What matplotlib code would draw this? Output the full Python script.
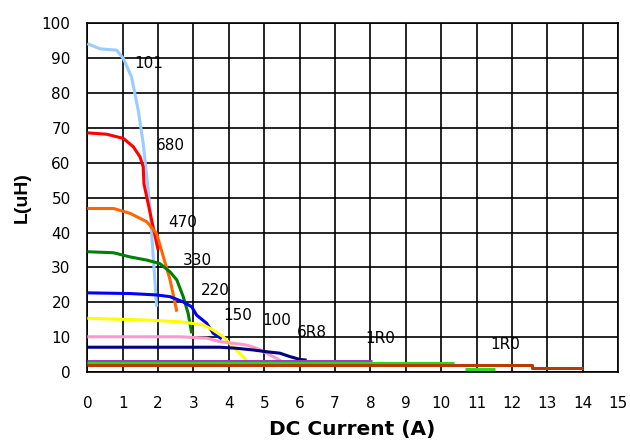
import matplotlib
matplotlib.use("Agg")
import matplotlib.pyplot as plt

plt.rcParams["font.family"] = ["DejaVu Sans"]

# curve data (current in A, inductance in uH)
x101 = [0, 0.36, 0.83, 1.02, 1.25, 1.44, 1.58, 1.68, 1.77, 1.85, 1.96]
y101 = [94.2, 92.7, 92.3, 89.9, 84.6, 75, 65.5, 56, 47.4, 35, 18.7]
x680 = [0, 0.55, 1.02, 1.3, 1.49, 1.58, 1.6, 1.82, 2.0]
y680 = [68.6, 68.2, 67, 64.6, 61.7, 58.8, 54, 43.5, 35]
x470 = [0, 0.74, 1.21, 1.68, 1.96, 2.15, 2.34, 2.53]
y470 = [46.9, 46.9, 45.5, 43.1, 39.7, 33, 26.4, 17.3]
x330 = [0, 0.74, 1.21, 1.68, 2.05, 2.34, 2.53, 2.71, 2.85, 2.95]
y330 = [34.5, 34.2, 33, 32.1, 31.1, 28.7, 26.4, 21.6, 16.8, 11.1]
x220 = [0, 1.21, 1.96, 2.34, 2.71, 2.95, 3.09, 3.37, 3.56, 3.8]
y220 = [22.7, 22.5, 22.1, 21.6, 20.1, 18.7, 16.3, 14, 11.1, 9.5]
x150 = [0, 1.68, 2.62, 3.28, 3.56, 3.84, 4.12, 4.5]
y150 = [15.4, 14.9, 14.4, 13.5, 12, 10.1, 7.2, 3.4]
x100 = [0, 2.62, 3.37, 3.75, 4.31, 4.5, 4.79, 5.07, 5.35, 5.49]
y100 = [10.1, 10.1, 9.7, 8.7, 8.0, 7.7, 6.8, 5.4, 3.9, 3.0]
x6r8 = [0, 3.75, 4.22, 4.7, 5.07, 5.44, 5.73, 6.01, 6.2]
y6r8 = [7.1, 7.1, 6.8, 6.3, 5.8, 5.4, 4.4, 3.6, 3.4]
x3r3 = [0, 8.06]
y3r3 = [3.15, 3.15]
x1r0a = [0, 10.36, None, 10.67, 11.52]
y1r0a = [2.6, 2.6, None, 0.9, 0.9]
x1r0b = [0, 12.58, 12.58, 14.0]
y1r0b = [1.9, 1.9, 1.06, 1.06]

curves = [
    (x101, y101, "#99CCFF"),
    (x680, y680, "#FF0000"),
    (x470, y470, "#FF6600"),
    (x330, y330, "#008000"),
    (x220, y220, "#0000FF"),
    (x150, y150, "#FFFF00"),
    (x100, y100, "#FF99CC"),
    (x6r8, y6r8, "#000080"),
    (x3r3, y3r3, "#A040C0"),
    (x1r0a, y1r0a, "#22DD22"),
    (x1r0b, y1r0b, "#B83A00"),
]

labels = ["101", "680", "470", "330", "220", "150", "100", "6R8", "1R0", "1R0"]
label_x = [1.74, 2.36, 2.69, 3.11, 3.63, 4.26, 5.34, 6.35, 8.27, 11.8]
label_y = [88.5, 65, 42.8, 32, 23.3, 16.3, 14.9, 11.2, 9.5, 7.8]

xticks = list(range(0, 16))
yticks = list(range(0, 101, 10))


def main():
    fig = plt.figure(figsize=(6.3, 4.41), dpi=100)
    ax = fig.add_axes([0.1386, 0.1565, 0.8424, 0.7905])

    for xs, ys, c in curves:
        xx = [float("nan") if v is None else v for v in xs]
        yy = [float("nan") if v is None else v for v in ys]
        ax.plot(xx, yy, color=c, lw=2.2, solid_capstyle="butt", zorder=3)

    for t, lx, ly in zip(labels, label_x, label_y):
        ax.text(lx, ly, t, ha="center", va="center", fontsize=11, zorder=4)

    ax.set_xlim(0, 15)
    ax.set_ylim(0, 100)
    ax.set_xticks(xticks)
    ax.set_yticks(yticks)
    ax.grid(True, color="black", lw=1.2)
    ax.tick_params(length=0, labelsize=11)
    ax.tick_params(axis="x", pad=17)
    ax.tick_params(axis="y", pad=12)
    for s in ax.spines.values():
        s.set_color("black")
        s.set_linewidth(1.2)
    ax.set_axisbelow(True)

    ax.set_xlabel("DC Current (A)", fontsize=14.5, fontweight="bold", labelpad=7)
    ax.set_ylabel("L(uH)", fontsize=14, fontweight="bold", labelpad=8,
                  family="Liberation Sans")

    fig.savefig("out.png", dpi=100)


if __name__ == "__main__":
    main()
